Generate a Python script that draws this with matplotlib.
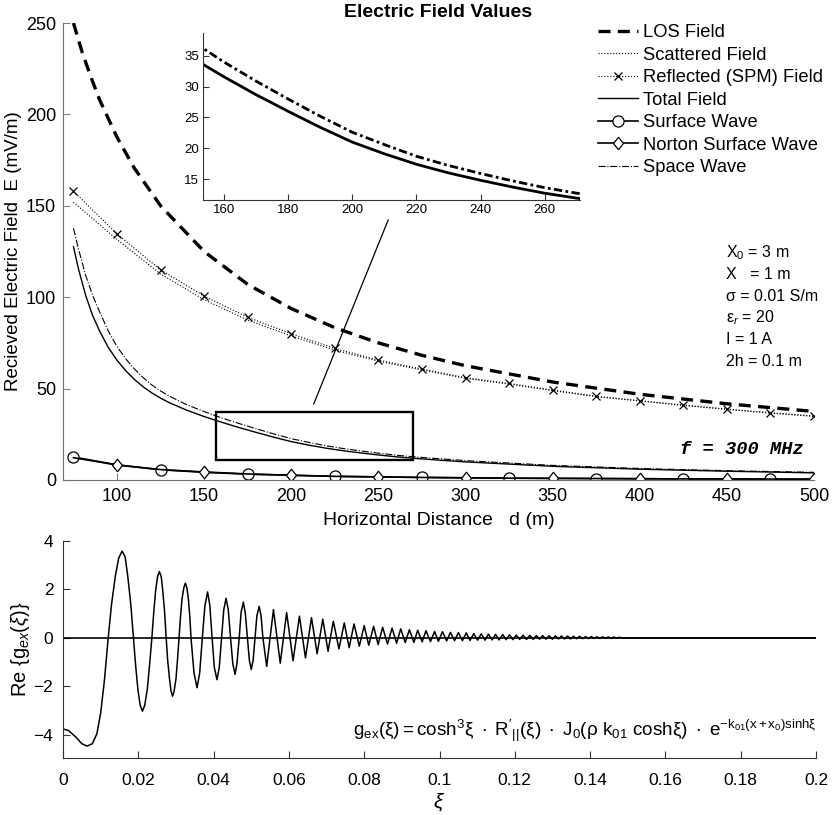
import numpy as np
import matplotlib
matplotlib.use('Agg')
import matplotlib.pyplot as plt
from matplotlib.patches import Rectangle

plt.rcParams['font.family'] = ['Liberation Sans', 'DejaVu Sans']
plt.rcParams['mathtext.fontset'] = 'custom'
plt.rcParams['mathtext.rm'] = 'Liberation Sans'
plt.rcParams['mathtext.it'] = 'Liberation Sans:italic'
plt.rcParams['mathtext.bf'] = 'Liberation Sans:bold'

# ---- top panel: field vs horizontal distance (mV/m) ----
d_los = [75, 80, 85, 90, 100, 110, 125, 150, 175, 200, 225, 250, 275, 300, 350, 400, 450, 500]
e_los = [250, 234, 220.5, 208, 187.5, 170.5, 150, 125, 107, 93.8, 83.3, 75, 68.2, 62.5, 53.6, 46.9, 41.7, 37.5]

d_marks = [75, 100, 125, 150, 175, 200, 225, 250, 275, 300, 325, 350, 375, 400, 425, 450, 475, 500]
e_reflected = [158, 134.6, 115, 100.6, 89, 80, 72, 65.6, 60.7, 56, 52.8, 49.2, 45.8, 43.4, 41, 38.8, 36.8, 35]
e_scattered = [152, 131.5, 112.7, 98.6, 87.5, 78.8, 71, 65, 60.2, 55.6, 52.4, 48.9, 45.6, 43.2, 40.8, 38.6, 36.6, 34.8]
e_surface = [12.6, 8.3, 5.6, 4.2, 3.2, 2.6, 2.0, 1.7, 1.4, 1.2, 1.0, 0.9, 0.8, 0.7, 0.6, 0.55, 0.5, 0.45]
e_norton = [12.2, 8.2, 5.7, 4.4, 3.3, 2.6, 2.0, 1.7, 1.4, 1.2, 1.0, 0.9, 0.8, 0.7, 0.6, 0.55, 0.5, 0.45]

d_near = [75, 78, 82, 86, 90, 95, 100, 105, 110, 115, 120, 125, 130, 140, 150, 160, 170, 180, 190,
          200, 210, 220, 230, 240, 250, 260, 270, 280, 300, 350, 400, 450, 500]
e_total = [127.6, 115, 101, 90, 81.5, 72.5, 65.5, 59.8, 55, 51, 47.6, 44.8, 42.3, 38.2, 34.7, 31.6, 28.7, 26.0, 23.4,
           21.0, 19.1, 17.4, 16.0, 14.8, 13.7, 12.7, 11.9, 11.2, 9.9, 7.5, 5.9, 4.8, 3.9]
e_space = [137.7, 126, 112, 101, 92, 81.5, 73, 66.3, 60.7, 56, 52, 48.7, 45.9, 41.2, 37.4, 34.0, 30.9, 28.0, 25.2,
           22.6, 20.6, 18.7, 17.2, 15.9, 14.7, 13.6, 12.7, 12.0, 10.6, 8.0, 6.3, 5.1, 4.2]

zoom_d = (157, 270)
zoom_e = (11, 37)
pointer_d = [212.9, 255.6]
pointer_e = [41.6, 142.2]

params = ['X$_0$ = 3 m', 'X   = 1 m', 'σ = 0.01 S/m', 'ε$_r$ = 20', 'I = 1 A', '2h = 0.1 m']

# ---- bottom panel: Re{g_ex(xi)} ----
xi_head = [0, 0.0015, 0.0035, 0.0050, 0.0064, 0.0078, 0.0090, 0.0100, 0.0110, 0.0120,
           0.0129, 0.0139, 0.0148, 0.0157, 0.0165, 0.0172, 0.0180, 0.0187, 0.0193, 0.0199,
           0.0205, 0.0211, 0.0217, 0.0224, 0.0230, 0.0236, 0.0241, 0.0246, 0.0251, 0.0256,
           0.0261, 0.0265, 0.0270, 0.0274, 0.0278, 0.0283, 0.0287, 0.0291, 0.0295, 0.0300,
           0.0304, 0.0308, 0.0312, 0.0316, 0.0321, 0.0325, 0.0329, 0.0333, 0.0337, 0.0340,
           0.0348, 0.0356, 0.0363, 0.0370, 0.0377, 0.0384, 0.0390, 0.0396, 0.0402, 0.0409,
           0.0415, 0.0421, 0.0427, 0.0433, 0.0439, 0.0445, 0.0451, 0.0457, 0.0462, 0.0468,
           0.0473, 0.0479, 0.0484, 0.0490, 0.0495, 0.0500, 0.0505, 0.0510, 0.0515, 0.0521,
           0.0526, 0.0531]
g_head = [-3.75, -3.82, -4.10, -4.36, -4.46, -4.36, -3.95, -3.10, -1.75, 0.00,
          1.40, 2.55, 3.30, 3.58, 3.35, 2.55, 1.40, 0.00, -1.15, -2.13,
          -2.78, -3.02, -2.78, -2.10, -1.10, 0.00, 1.05, 1.95, 2.52, 2.74,
          2.52, 1.95, 1.05, 0.00, -0.92, -1.70, -2.20, -2.40, -2.20, -1.70,
          -0.92, 0.00, 0.86, 1.60, 2.08, 2.26, 2.08, 1.60, 0.86, 0.00,
          -1.45, -2.05, -1.45, 0.00, 1.34, 1.90, 1.34, 0.00, -1.22, -1.72,
          -1.22, 0.00, 1.16, 1.64, 1.16, 0.00, -1.06, -1.50, -1.06, 0.00,
          1.05, 1.48, 1.05, 0.00, -0.92, -1.30, -0.92, 0.00, 0.92, 1.30,
          0.92, 0.00]

peak_xi = [0.0559, 0.0594, 0.0628, 0.0660, 0.0690, 0.0718,
           0.0747, 0.0773, 0.0800, 0.0825, 0.0849, 0.0874, 0.0897, 0.0920, 0.0942, 0.0964,
           0.0987, 0.1008, 0.1029, 0.1050, 0.1071, 0.1091, 0.1111, 0.1130, 0.1149, 0.1168,
           0.1186, 0.1204, 0.1222, 0.1240, 0.1257, 0.1274, 0.1291, 0.1308, 0.1324, 0.1340,
           0.1356, 0.1372, 0.1388, 0.1403, 0.1418, 0.1433, 0.1448, 0.1463, 0.1478]
peak_g = [1.17, 1.05, 0.90, 0.84, 0.78, 0.69,
          0.62, 0.58, 0.51, 0.48, 0.44, 0.41, 0.38, 0.34, 0.32, 0.30,
          0.27, 0.26, 0.23, 0.22, 0.21, 0.18, 0.17, 0.16, 0.15, 0.14,
          0.13, 0.12, 0.12, 0.11, 0.10, 0.10, 0.09, 0.09, 0.08, 0.08,
          0.07, 0.07, 0.06, 0.06, 0.05, 0.05, 0.04, 0.04, 0.03]
trough_xi = [0.0541, 0.0577, 0.0611, 0.0644, 0.0675, 0.0704,
             0.0733, 0.0760, 0.0787, 0.0812, 0.0837, 0.0862, 0.0886, 0.0909, 0.0932, 0.0954,
             0.0976, 0.0997, 0.1019, 0.1040, 0.1061, 0.1081, 0.1101, 0.1121, 0.1140, 0.1158,
             0.1177, 0.1195, 0.1213, 0.1231, 0.1249, 0.1266, 0.1283, 0.1300, 0.1316, 0.1332,
             0.1348, 0.1364, 0.1380, 0.1396, 0.1411, 0.1426, 0.1441, 0.1456, 0.1471, 0.1486]
trough_g = [-1.17, -1.04, -0.94, -0.82, -0.65, -0.55,
            -0.45, -0.40, -0.34, -0.30, -0.27, -0.25, -0.22, -0.19, -0.18, -0.16,
            -0.15, -0.14, -0.12, -0.11, -0.11, -0.10, -0.09, -0.09, -0.08, -0.08,
            -0.07, -0.07, -0.06, -0.06, -0.06, -0.05, -0.05, -0.05, -0.04, -0.04,
            -0.04, -0.03, -0.03, -0.03, -0.02, -0.02, -0.02, -0.02, -0.01, -0.01]
xi_end = [0.1495, 0.2]
g_end = [0.0, 0.0]

formula = (r"$\mathregular{g_{ex}(\xi) = cosh^3\xi\ \cdot\ R'_{||}(\xi)\ \cdot\ "
           r"J_0(\rho\ k_{01}\ cosh\xi)\ \cdot\ e^{-k_{01}(x+x_0)sinh\xi}}$")

W, H = 832, 815
fig = plt.figure(figsize=(W / 100, H / 100), dpi=100)

# ---- top panel ----
ax = fig.add_axes([63 / W, (H - 480) / H, (814 - 63) / W, (480 - 23) / H])
diamond = [(0, -1), (0.8, 0), (0, 1), (-0.8, 0), (0, -1)]
ax.plot(d_los, e_los, color='k', lw=2.4, dashes=(3.6, 2.2), label='LOS Field')
ax.plot(d_marks, e_scattered, color='k', lw=0.8, ls=':', label='Scattered Field')
ax.plot(d_marks, e_reflected, color='k', lw=0.8, ls=':', marker='x', ms=6, mew=0.9,
        label='Reflected (SPM) Field')
ax.plot(d_near, e_total, color='k', lw=1.0, label='Total Field')
ax.plot(d_marks, e_surface, color='k', lw=1.2, marker='o', ms=8, mfc='white', mew=0.9,
        markevery=slice(0, None, 2), label='Surface Wave')
ax.plot(d_marks, e_norton, color='k', lw=1.2, marker=diamond, ms=9, mfc='white', mew=0.9,
        markevery=slice(1, None, 2), label='Norton Surface Wave')
ax.plot(d_near, e_space, color='k', lw=0.8, ls='-.', label='Space Wave')

ax.add_patch(Rectangle((zoom_d[0], zoom_e[0]), zoom_d[1] - zoom_d[0], zoom_e[1] - zoom_e[0],
                       fill=False, ec='k', lw=1.7))
ax.plot(pointer_d, pointer_e, color='k', lw=0.9)

ax.set_xlim(69, 500)
ax.set_ylim(0, 250)
ax.set_xticks(np.arange(100, 501, 50))
ax.set_yticks(np.arange(0, 251, 50))
for s in ['top', 'right']:
    ax.spines[s].set_visible(False)
for s in ['left', 'bottom']:
    ax.spines[s].set_color('#707070')
ax.tick_params(direction='in', length=5, color='#808080', labelsize=13)
ax.tick_params(axis='x', pad=6)
ax.tick_params(axis='y', pad=5)
ax.set_xlabel('Horizontal Distance   d (m)', fontsize=14, labelpad=5)
ax.set_ylabel('Recieved Electric Field  E (mV/m)', fontsize=13.5, labelpad=3)
ax.set_title('Electric Field Values', fontsize=14, fontweight='bold', pad=4)

for i, t in enumerate(params):
    ax.text(0.883, 0.497 - i * 0.0475, t, transform=ax.transAxes, fontsize=11.5, va='center')
ax.text(0.987, 0.066, 'f = 300 MHz', transform=ax.transAxes, ha='right', va='center',
        fontsize=13.5, family='Liberation Mono', fontweight='bold', style='italic')

leg = fig.legend(*ax.get_legend_handles_labels(), loc='upper left',
                 bbox_to_anchor=(598 / W, (H - 24) / H), frameon=False, fontsize=13.25,
                 borderpad=0, borderaxespad=0, handlelength=2.2, handletextpad=0.25,
                 labelspacing=0.3)

# ---- inset ----
ai = fig.add_axes([203 / W, (H - 200) / H, (580 - 203) / W, (200 - 33) / H])
ai.plot(d_near, e_total, color='k', lw=2.0)
ai.plot(d_near, e_space, color='k', lw=2.0, dashes=(3, 1.2, 1, 1.2))
ai.set_xlim(153.5, 271)
ai.set_ylim(11.6, 38.7)
ai.set_xticks(np.arange(160, 261, 20))
ai.set_yticks(np.arange(15, 36, 5))
for s in ['top', 'right']:
    ai.spines[s].set_visible(False)
for s in ['left', 'bottom']:
    ai.spines[s].set_color('#333333')
ai.tick_params(direction='in', length=4, color='#333333', labelsize=9.5, pad=3)

# ---- bottom panel ----
xi_tail = np.concatenate([peak_xi, trough_xi])
g_tail = np.concatenate([peak_g, trough_g])
order = np.argsort(xi_tail)
xi_all = np.concatenate([xi_head, xi_tail[order], xi_end])
g_all = np.concatenate([g_head, g_tail[order], g_end])

ab = fig.add_axes([63 / W, (H - 758) / H, (816 - 63) / W, (758 - 541) / H])
ab.axhline(0, color='k', lw=1.2)
ab.plot(xi_all, g_all, color='k', lw=1.1)
ab.set_xlim(0, 0.2)
ab.set_ylim(-4.95, 4)
ab.set_xticks(np.arange(0, 0.201, 0.02))
ab.set_xticklabels(['%g' % round(v, 2) for v in np.arange(0, 0.201, 0.02)])
ab.set_yticks([-4, -2, 0, 2, 4])
for s in ['top', 'right']:
    ab.spines[s].set_visible(False)
for s in ['left', 'bottom']:
    ab.spines[s].set_color('#333333')
ab.tick_params(direction='in', length=5, color='#333333', labelsize=12.5)
ab.tick_params(axis='x', pad=11)
ab.tick_params(axis='y', pad=7)
ab.set_xlabel(r'$\xi$', fontsize=15, labelpad=2)
ab.set_ylabel(r'Re {g$_{ex}$($\xi$)}', fontsize=14.5, labelpad=1)
ab.text(1.0, 0.124, formula, transform=ab.transAxes, ha='right', va='center', fontsize=13.6)

fig.savefig('out.png', dpi=100)
